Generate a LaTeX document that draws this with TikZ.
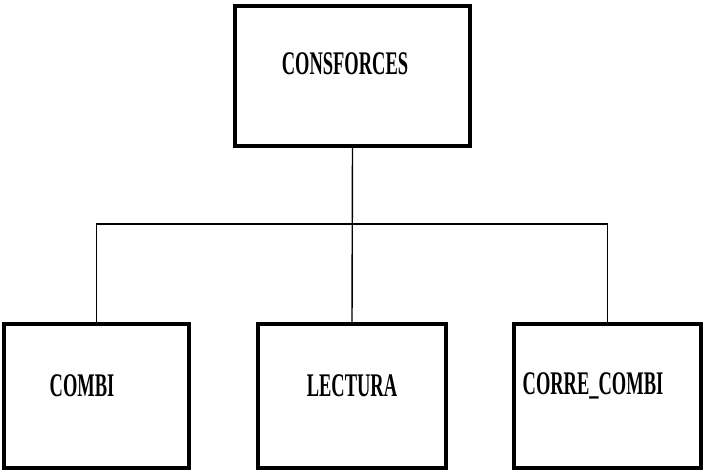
\documentclass[tikz,border=0pt]{standalone}
\usepackage{fontspec}
\setmainfont{Liberation Serif}
\begin{document}
\begin{tikzpicture}[x=1pt,y=-1pt,
  modbox/.style={draw=black,line width=3.4pt,fill=white,rectangle,inner sep=0pt,outer sep=0pt},
  modlabel/.style={inner sep=0pt,font=\fontsize{33}{36}\selectfont\bfseries},
  link/.style={draw=black,line width=1.4pt}]
  \useasboundingbox (0,0) rectangle (704,474);
  \fill[white] (0,0) rectangle (704,474);

  % module boxes
  \node[modbox,minimum width=235pt,minimum height=140pt] (top) at (352.5,76) {};
  \node[modbox,minimum width=185pt,minimum height=144pt] (combi) at (96.5,396) {};
  \node[modbox,minimum width=188pt,minimum height=144pt] (lect) at (352,396) {};
  \node[modbox,minimum width=187pt,minimum height=144pt] (corre) at (607.5,396) {};

  % labels
  \node[modlabel] (ltop) at (345,64) {\scalebox{0.56}[1]{CONSFORCES}};
  \node[modlabel] (lcombi) at (82,386) {\scalebox{0.56}[1]{COMBI}};
  \node[modlabel] (llect) at (352,386) {\scalebox{0.56}[1]{LECTURA}};
  \node[modlabel] (lcorre) at (593,386) {\scalebox{0.56}[1]{CORRE\_COMBI}};

  % connectors
  \coordinate (bus) at (352,224);
  \draw[link] (top.south) -- (lect.north);
  \draw[link] (combi.north) -- (combi.north |- bus) -| (corre.north);
\end{tikzpicture}
\end{document}
